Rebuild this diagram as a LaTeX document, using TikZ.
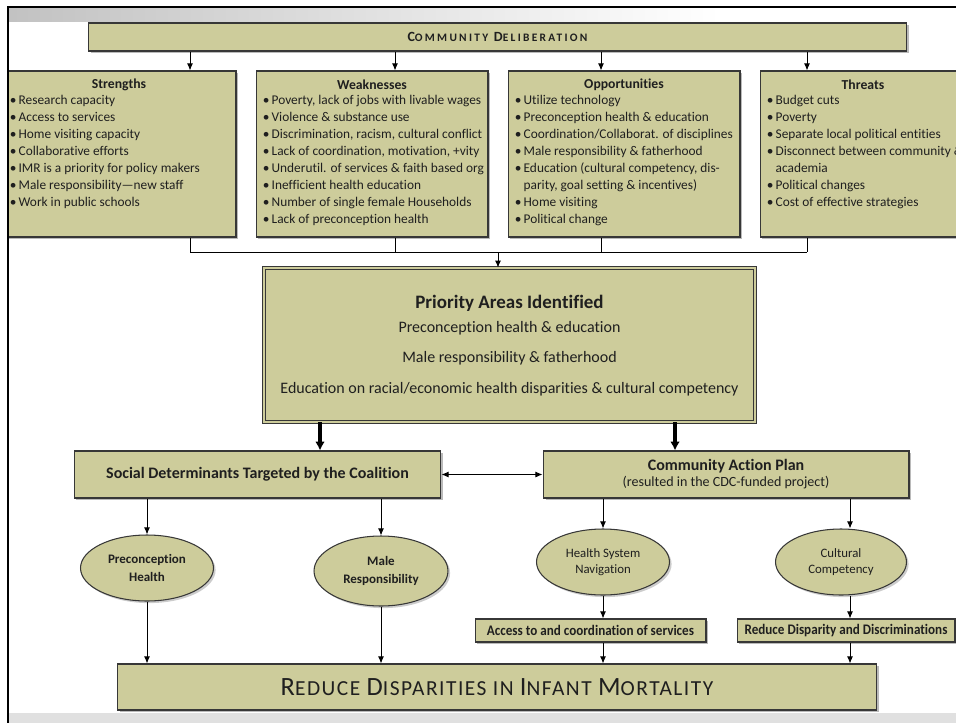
\documentclass[tikz,border=0pt]{standalone}
\usepackage{fontspec}
\setmainfont[Ligatures=NoCommon]{Carlito}
\newfontfamily\condfont[FakeStretch=0.9,Ligatures=NoCommon]{Carlito}
\usetikzlibrary{arrows.meta,shapes.geometric,shadows}
\definecolor{olivebox}{RGB}{205,204,155}
\definecolor{edgegrey}{RGB}{55,55,55}
\newcommand\itm[1]{\makebox[5pt][l]{\textbullet}#1}
\newcommand\capbig{\fontsize{15}{17}\selectfont}
\newcommand\capsml{\fontsize{12.2}{14}\selectfont}
\newcommand\dlbig{\fontsize{8}{9}\selectfont}
\newcommand\dlsml{\fontsize{6.5}{8}\selectfont}
\begin{document}
\begin{tikzpicture}[x=0.02cm, y=-0.02cm, font=\fontsize{7.6}{9.64}\selectfont, text=black!88,
    panel/.style={rectangle, draw=edgegrey, line width=0.6pt, fill=olivebox, inner sep=0pt, align=center,
        drop shadow={shadow xshift=1.4pt, shadow yshift=-1.4pt, fill=black!45, opacity=0.6}},
    oval/.style={ellipse, draw=edgegrey, line width=0.6pt, fill=olivebox, inner sep=0pt, align=center,
        drop shadow={shadow xshift=1.2pt, shadow yshift=-1.2pt, fill=black!40, opacity=0.5}},
    ttl/.style={font=\fontsize{7.8}{9}\selectfont\bfseries},
    lst/.style={anchor=north west, align=left, inner sep=0pt},
    arr/.style={-{Latex[length=4pt,width=3.4pt]}, line width=0.55pt},
    arr2/.style={{Latex[length=4pt,width=3.4pt]}-{Latex[length=4pt,width=3.4pt]}, line width=0.55pt},
    thk/.style={-{Latex[length=5pt,width=5.5pt]}, line width=1.8pt}]
\useasboundingbox (0,0) rectangle (956,723);
\fill[left color=black!24, right color=white] (8,9) rectangle (720,22);
\fill[black!12] (8,713) rectangle (956,723);
\begin{scope}
\clip (8,0) rectangle (956,723);
\node[panel, minimum width=16.38cm, minimum height=0.56cm] (delib) at (497.5,37)
    {\bfseries\addfontfeature{LetterSpace=20}{\dlbig C}{\dlsml OMMUNITY} {\dlbig D}{\dlsml ELIBERATION}};
\node[panel, minimum width=4.72cm, minimum height=3.32cm] (str) at (118,154) {};
\node[panel, minimum width=4.64cm, minimum height=3.32cm] (weak) at (372,154) {};
\node[panel, minimum width=4.64cm, minimum height=3.32cm] (opp) at (624,154) {};
\node[panel, minimum width=4.8cm, minimum height=3.32cm] (thr) at (880,154) {};
\node[ttl] (strT) at (119,85) {Strengths};
\node[ttl] (weakT) at (weak.north |- 0,85) {Weaknesses};
\node[ttl] (oppT) at (opp.north |- 0,85) {Opportunities};
\node[ttl] (thrT) at (863,85) {Threats};
\node[lst] (strL) at ([xshift=5.7pt, yshift=-14pt]str.north west) {\itm{Research capacity}\\\itm{Access to services}\\\itm{Home visiting capacity}\\\itm{Collaborative efforts}\\\itm{IMR is a priority for policy makers}\\\itm{Male responsibility—new staff}\\\itm{Work in public schools}};
\node[lst] (weakL) at ([xshift=4pt, yshift=-14pt]weak.north west) {\itm{Poverty, lack of jobs with livable wages}\\\itm{Violence \& substance use}\\\itm{Discrimination, racism, cultural conflict}\\\itm{Lack of coordination, motivation, +vity}\\\itm{Underutil. of services \& faith based org}\\\itm{Inefficient health education}\\\itm{Number of single female Households}\\\itm{Lack of preconception health}};
\node[lst] (oppL) at ([xshift=4pt, yshift=-14pt]opp.north west) {\itm{Utilize technology}\\\itm{Preconception health \& education}\\\itm{Coordination/Collaborat. of disciplines}\\\itm{Male responsibility \& fatherhood}\\\itm{Education (cultural competency, dis-}\\\hspace*{5pt}parity, goal setting \& incentives)\\\itm{Home visiting}\\\itm{Political change}};
\node[lst] (thrL) at ([xshift=4pt, yshift=-14pt]thr.north west) {\itm{Budget cuts}\\\itm{Poverty}\\\itm{Separate local political entities}\\\itm{Disconnect between community \&}\\\hspace*{5pt}academia\\\itm{Political changes}\\\itm{Cost of effective strategies}};
\node[panel, double=olivebox, double distance=1.6pt, line width=0.5pt, minimum width=9.82cm, minimum height=3.08cm] (prio) at (509.5,345) {};
\node[font=\fontsize{10.8}{12}\selectfont\bfseries] (prioT) at (prio.north |- 0,303) {Priority Areas Identified};
\node[font=\fontsize{9.1}{10}\selectfont] (prioA) at (prio.north |- 0,328) {Preconception health \& education};
\node[font=\fontsize{9.1}{10}\selectfont] (prioB) at (prio.north |- 0,358) {Male responsibility \& fatherhood};
\node[font=\fontsize{9.1}{10}\selectfont] (prioC) at (prio.north |- 0,389) {Education on racial/economic health disparities \& cultural competency};
\node[panel, minimum width=7.34cm, minimum height=0.94cm, font=\fontsize{9.1}{10}\selectfont\bfseries] (soc) at (257.5,474.5) {Social Determinants Targeted by the Coalition};
\node[panel, minimum width=7.32cm, minimum height=0.94cm] (cap) at (726,474.5)
    {{\fontsize{9.1}{9}\selectfont\bfseries Community Action Plan}\\[-0.5pt]{\fontsize{8}{9}\selectfont (resulted in the CDC-funded project)}};
\node[oval, minimum width=2.66cm, minimum height=1.32cm, font=\fontsize{7.4}{10}\selectfont\bfseries] (eph) at (147,568) {Preconception\\Health};
\node[oval, minimum width=2.68cm, minimum height=1.4cm, font=\fontsize{7.4}{10}\selectfont\bfseries] (emr) at (381,571) {Male\\Responsibility};
\node[oval, minimum width=2.66cm, minimum height=1.32cm, font=\fontsize{7.3}{9}\selectfont] (ehs) at (603,562) {Health System\\Navigation};
\node[oval, minimum width=2.62cm, minimum height=1.32cm, font=\fontsize{7.3}{9}\selectfont] (ecc) at (841,562) {Cultural\\Competency};
\node[panel, minimum width=4.62cm, minimum height=0.46cm, font=\condfont\bfseries\fontsize{8.3}{9}\selectfont] (sb1) at (590.5,630.5) {Access to and coordination of services};
\node[panel, minimum width=4.36cm, minimum height=0.46cm, font=\condfont\bfseries\fontsize{8.3}{9}\selectfont] (sb2) at (846,630.5) {Reduce Disparity and Discriminations};
\node[panel, minimum width=15.2cm, minimum height=0.92cm] (fin) at (497,687)
    {\addfontfeature{LetterSpace=7}\capsml{\capbig R}EDUCE {\capbig D}ISPARITIES IN {\capbig I}NFANT {\capbig M}ORTALITY};
\coordinate (ka) at (190,0);
\coordinate (kb) at (395,0);
\coordinate (kc) at (601,0);
\coordinate (kd) at (807,0);
\coordinate (jn) at (498,252);
\foreach \k/\b in {ka/str,kb/weak,kc/opp,kd/thr} {
    \draw[arr] (delib.south -| \k) -- (\b.north -| \k);
    \draw[line width=0.55pt] (\b.south -| \k) -- (\k |- jn);
}
\draw[line width=0.55pt] (ka |- jn) -- (kd |- jn);
\draw[arr] (jn) -- (prio.north -| jn);
\coordinate (kl) at (320,0);
\coordinate (kr) at (675,0);
\draw[thk] (prio.south -| kl) -- (soc.north -| kl);
\draw[thk] (prio.south -| kr) -- (cap.north -| kr);
\draw[arr2] (soc.east) -- (cap.west);
\coordinate (ke) at (147,0);
\coordinate (kf) at (381,0);
\coordinate (kg) at (603,0);
\coordinate (kh) at (850,0);
\draw[arr] (soc.south -| ke) -- (eph);
\draw[arr] (soc.south -| kf) -- (emr);
\draw[arr] (cap.south -| kg) -- (ehs);
\draw[arr] (cap.south -| kh) -- (ecc.north -| kh);
\draw[arr] (eph) -- (fin.north -| ke);
\draw[arr] (emr) -- (fin.north -| kf);
\draw[arr] (ehs) -- (sb1.north -| kg);
\draw[arr] (sb1.south -| kg) -- (fin.north -| kg);
\draw[arr] (ecc.south -| kh) -- (sb2.north -| kh);
\draw[arr] (sb2.south -| kh) -- (fin.north -| kh);
\end{scope}
\draw[line width=1.2pt] (7,7) -- (956,7);
\draw[line width=1.3pt] (8,7) -- (8,723);
\end{tikzpicture}
\end{document}
